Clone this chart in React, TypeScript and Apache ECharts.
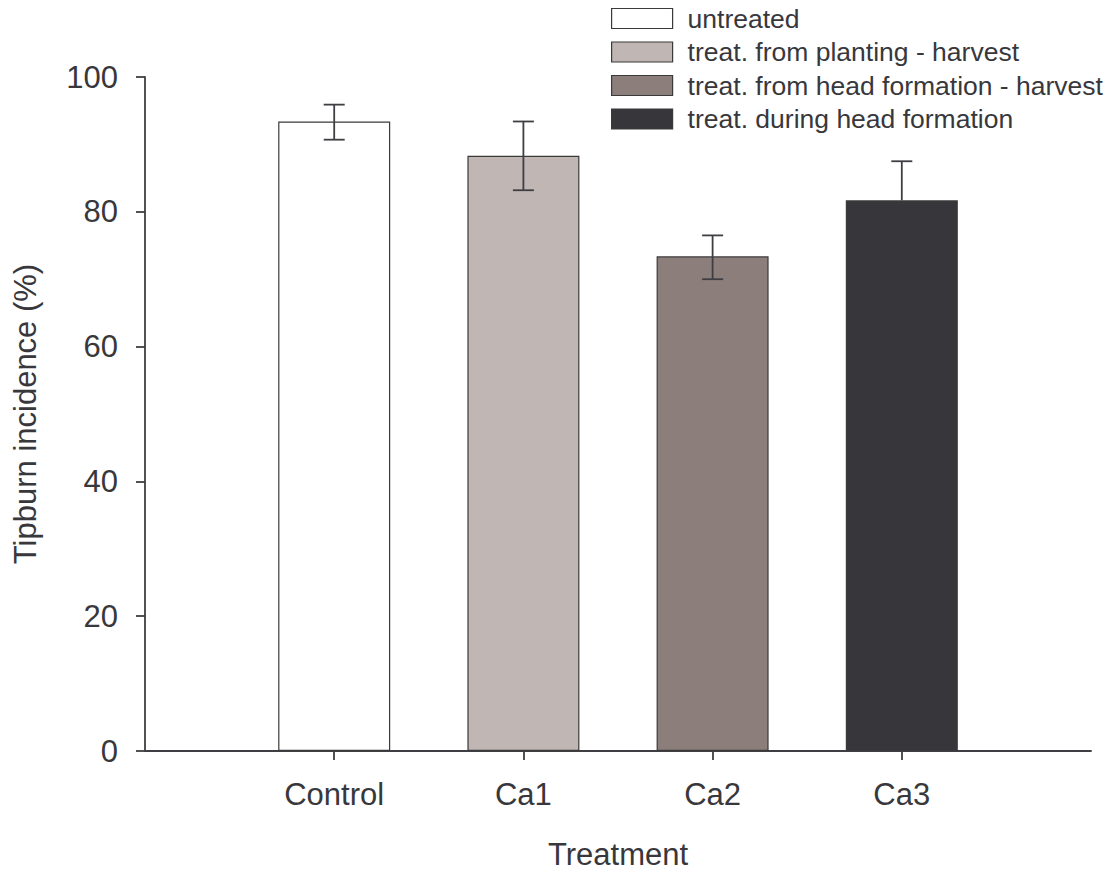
import React, { useEffect, useRef } from "react";
import * as echarts from "echarts";

const categories = ["", "Control", "Ca1", "Ca2", "Ca3", ""];
const seriesNames = [
  "untreated",
  "treat. from planting - harvest",
  "treat. from head formation - harvest",
  "treat. during head formation",
];
const barValues = [93.4, 88.3, 73.4, 81.7];
const errLow: (number | null)[] = [90.7, 83.2, 70.0, null];
const errHigh = [95.9, 93.4, 76.5, 87.5];
const barColors = ["#ffffff", "#c0b6b3", "#8c7f7b", "#37363b"];
const yTicks = { min: 0, max: 100, interval: 20 };

const FONT = "'Liberation Sans', Arial, Helvetica, sans-serif";
const TEXT = "#38383c";
const LINE = "#3f3f43";

export default function App() {
  const ref = useRef<HTMLDivElement>(null);
  useEffect(() => {
    document.body.style.margin = "0";
    if (!ref.current) return;
    const chart = echarts.init(ref.current, undefined, { renderer: "svg" });
    const barSeries = seriesNames.map((name, i) => ({
      name,
      type: "bar",
      barWidth: 112,
      barGap: "-100%",
      itemStyle: { color: barColors[i], borderColor: "#3a3a3a", borderWidth: 1.2 },
      data: categories.map((_, ci) => (ci === i + 1 ? barValues[i] : "-")),
      z: 2,
    }));
    const errData = barValues.map((b, i) => [i + 1, errLow[i] == null ? b : errLow[i], errHigh[i], errLow[i] == null ? 0 : 1]);
    chart.setOption({
      animation: false,
      textStyle: { fontFamily: FONT },
      grid: { left: 145, right: 21, top: 77, bottom: 118 },
      legend: {
        orient: "vertical",
        left: 606,
        top: 0,
        itemWidth: 61,
        itemHeight: 20,
        itemGap: 6.5,
        icon: "rect",
        selectedMode: false,
        textStyle: { fontSize: 26.5, color: TEXT, fontFamily: FONT, lineHeight: 20, padding: [0, 0, 0, 10] },
        data: seriesNames.map((n, i) => ({
          name: n,
          itemStyle: { color: barColors[i], borderColor: "#3a3a3a", borderWidth: 1.2 },
        })),
      },
      xAxis: {
        type: "category",
        data: categories,
        boundaryGap: false,
        name: "Treatment",
        nameLocation: "middle",
        nameGap: 88,
        nameTextStyle: { fontSize: 31, color: TEXT, fontFamily: FONT },
        axisLine: { lineStyle: { color: LINE, width: 1.8 } },
        axisTick: {
          length: 9,
          interval: (idx: number) => idx > 0 && idx < categories.length - 1,
          lineStyle: { color: LINE, width: 1.8 },
        },
        axisLabel: { interval: 0, fontSize: 31, color: TEXT, margin: 28, fontFamily: FONT },
        splitLine: { show: false },
      },
      yAxis: {
        type: "value",
        min: yTicks.min,
        max: yTicks.max,
        interval: yTicks.interval,
        name: "Tipburn incidence (%)",
        nameLocation: "middle",
        nameGap: 104,
        nameTextStyle: { fontSize: 31, color: TEXT, fontFamily: FONT },
        axisLine: { show: true, lineStyle: { color: LINE, width: 1.8 } },
        axisTick: { show: true, length: 9, lineStyle: { color: LINE, width: 1.8 } },
        axisLabel: { fontSize: 31, color: TEXT, margin: 27, fontFamily: FONT },
        splitLine: { show: false },
      },
      series: [
        ...barSeries,
        {
          type: "custom",
          name: "err",
          z: 5,
          data: errData,
          renderItem: (params: any, api: any) => {
            const x = api.value(0);
            const lo = api.coord([x, api.value(1)]);
            const hi = api.coord([x, api.value(2)]);
            const hasLow = api.value(3) === 1;
            const half = 10.5;
            const style = { stroke: LINE, lineWidth: 1.8 };
            const children: any[] = [
              { type: "line", shape: { x1: hi[0], y1: hi[1], x2: lo[0], y2: lo[1] }, style },
              { type: "line", shape: { x1: hi[0] - half, y1: hi[1], x2: hi[0] + half, y2: hi[1] }, style },
            ];
            if (hasLow) {
              children.push({ type: "line", shape: { x1: lo[0] - half, y1: lo[1], x2: lo[0] + half, y2: lo[1] }, style });
            }
            return { type: "group", children };
          },
        },
      ],
    });
    return () => chart.dispose();
  }, []);
  return <div ref={ref} style={{ width: 1112, height: 875 }} />;
}
